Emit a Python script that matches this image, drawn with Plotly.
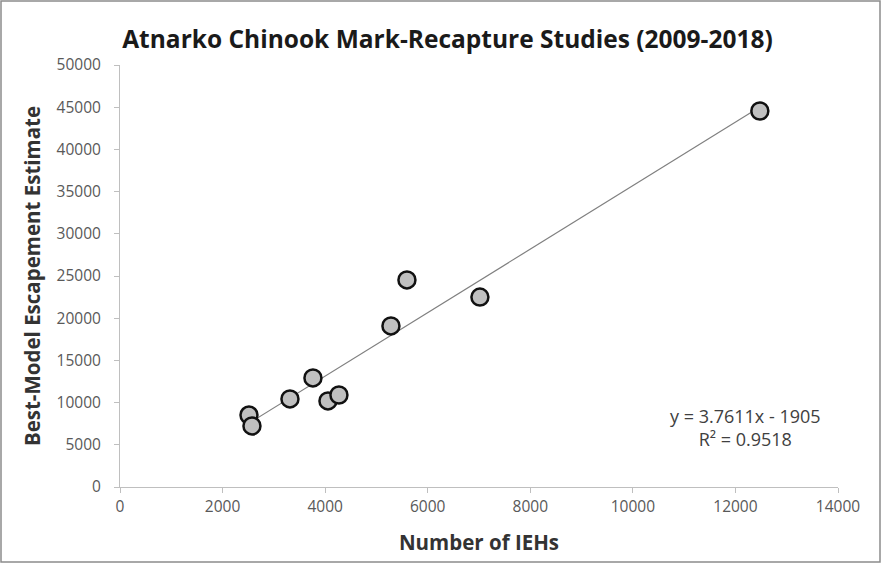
import plotly.graph_objects as go

# Data
ieh = [2515, 2573, 3314, 3762, 4055, 4269, 5283, 5595, 7018, 12476]
escapement = [8530, 7230, 10430, 12920, 10200, 10900, 19080, 24530, 22510, 44550]
slope = 3.7611
intercept = -1905
x_ticks = [0, 2000, 4000, 6000, 8000, 10000, 12000, 14000]
y_ticks = [0, 5000, 10000, 15000, 20000, 25000, 30000, 35000, 40000, 45000, 50000]

W, H = 882, 564
ML, MR, MT, MB = 120, 44, 65, 77

fit_x = [min(ieh), max(ieh)]
fit_y = [slope * v + intercept for v in fit_x]

fig = go.Figure()
fig.add_trace(go.Scatter(x=fit_x, y=fit_y, mode="lines",
                         line=dict(color="#808080", width=1.2),
                         hoverinfo="skip", showlegend=False))
fig.add_trace(go.Scatter(x=ieh, y=escapement, mode="markers",
                         marker=dict(size=17, color="#c0c0c0",
                                     line=dict(color="#111111", width=2.5)),
                         showlegend=False))

pw = W - ML - MR
ph = H - MT - MB
fig.add_shape(type="rect", xref="paper", yref="paper",
              x0=-(ML - 1) / pw, x1=1 + (MR - 2) / pw,
              y0=-(MB - 2) / ph, y1=1 + (MT - 1) / ph,
              line=dict(color="#8c8c8c", width=1.5))

fig.add_annotation(x=12190, y=7100, xref="x", yref="y",
                   text="y = 3.7611x - 1905<br>R² = 0.9518",
                   showarrow=False, align="center",
                   font=dict(family="Open Sans", size=18, color="#404040"))

tick_font = dict(family="Open Sans", size=15.5, color="#595959")
fig.update_layout(
    width=W, height=H,
    margin=dict(l=ML, r=MR, t=MT, b=MB),
    paper_bgcolor="white", plot_bgcolor="white",
    title=dict(text="<b>Atnarko Chinook Mark-Recapture Studies (2009-2018)</b>",
               x=447.5 / W, xanchor="center", xref="container",
               y=1 - 39 / H, yanchor="middle",
               font=dict(family="Open Sans", size=24.5, color="#1a1a1a")),
    xaxis=dict(range=[0, 14000], tickvals=x_ticks, ticktext=[str(v) for v in x_ticks],
               showgrid=False, zeroline=False,
               showline=True, linecolor="#bfbfbf", linewidth=1,
               ticks="outside", ticklen=5, tickcolor="#bfbfbf",
               tickfont=tick_font,
               title=dict(text="<b>Number of IEHs</b>", standoff=20,
                          font=dict(family="Open Sans", size=20.5, color="#333333"))),
    yaxis=dict(range=[0, 50000], tickvals=y_ticks, ticktext=[str(v) for v in y_ticks],
               showgrid=False, zeroline=False,
               showline=True, linecolor="#bfbfbf", linewidth=1,
               ticks="outside", ticklen=5, tickcolor="#bfbfbf",
               ticklabelstandoff=10,
               tickfont=tick_font,
               title=dict(text="<b>Best-Model Escapement Estimate</b>", standoff=10,
                          font=dict(family="Open Sans", size=20.5, color="#333333"))),
)

fig.write_html("out.html", post_script="document.body.style.margin='0';",
               config={"displayModeBar": False})
